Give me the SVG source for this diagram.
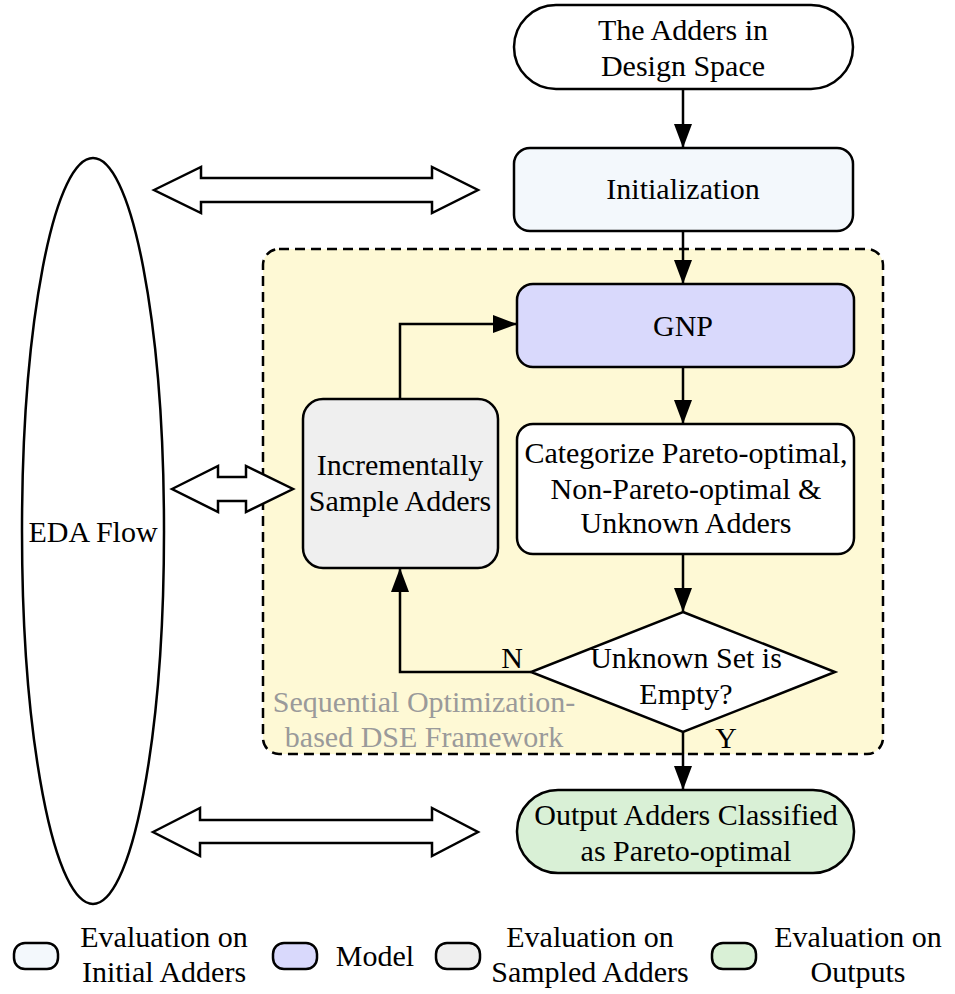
<svg xmlns="http://www.w3.org/2000/svg" width="955" height="994" viewBox="0 0 955 994">
<defs>
<marker id="ah" markerUnits="userSpaceOnUse" markerWidth="24" markerHeight="18" refX="24" refY="9" orient="auto"><path d="M0,0 L24,9 L0,18 z" fill="#000"/></marker>
<style>
text{font-family:"Liberation Serif","Times New Roman",serif;font-size:30px;fill:#000;text-anchor:middle}
.box{stroke:#000;stroke-width:2.5}
.conn{fill:none;stroke:#000;stroke-width:2.5}
.dbl{fill:#fff;stroke:#000;stroke-width:2.5;stroke-linejoin:miter}
.lg{stroke:#000;stroke-width:2.5}
</style>
</defs>
<rect width="955" height="994" fill="#fff"/>
<g id="framework">
<rect x="263" y="249" width="620" height="505" rx="16" fill="#fef9d5" stroke="#000" stroke-width="2.5" stroke-dasharray="10,6"/>
<text x="424" y="712" style="fill:#9a9a9a">Sequential Optimization-</text>
<text x="424" y="747" style="fill:#9a9a9a">based DSE Framework</text>
</g>
<g id="eda">
<ellipse cx="93" cy="531" rx="71" ry="373" fill="#fff" stroke="#000" stroke-width="2.5"/>
<text x="93" y="542">EDA Flow</text>
</g>
<g id="start">
<rect class="box" x="514" y="5" width="339" height="84" rx="42" fill="#fff"/>
<text x="683" y="40">The Adders in</text>
<text x="683" y="76">Design Space</text>
</g>
<g id="init">
<rect class="box" x="514" y="148" width="339" height="83" rx="16" fill="#f3f8fc"/>
<text x="683" y="199">Initialization</text>
</g>
<g id="gnp">
<rect class="box" x="517" y="284" width="337" height="83" rx="16" fill="#d9d9fc"/>
<text x="683" y="336">GNP</text>
</g>
<g id="categorize">
<rect class="box" x="517" y="424" width="337" height="130" rx="16" fill="#fff"/>
<text x="686" y="463">Categorize Pareto-optimal,</text>
<text x="686" y="499">Non-Pareto-optimal &amp;</text>
<text x="686" y="533">Unknown Adders</text>
</g>
<g id="sample">
<rect class="box" x="303" y="399" width="195" height="169" rx="20" fill="#efefef"/>
<text x="400" y="475">Incrementally</text>
<text x="400" y="511">Sample Adders</text>
</g>
<g id="decision">
<polygon class="box" points="683,612 835,672 683,732 531,672" fill="#fff"/>
<text x="686" y="668">Unknown Set is</text>
<text x="686" y="704">Empty?</text>
</g>
<g id="output">
<rect class="box" x="517" y="790" width="337" height="83" rx="41" fill="#d9f0d6"/>
<text x="686" y="825">Output Adders Classified</text>
<text x="686" y="861">as Pareto-optimal</text>
</g>
<g id="connectors">
<line class="conn" x1="683" y1="89" x2="683" y2="148" marker-end="url(#ah)"/>
<line class="conn" x1="683" y1="231" x2="683" y2="284" marker-end="url(#ah)"/>
<line class="conn" x1="683" y1="367" x2="683" y2="424" marker-end="url(#ah)"/>
<line class="conn" x1="683" y1="554" x2="683" y2="612" marker-end="url(#ah)"/>
<line class="conn" x1="683" y1="732" x2="683" y2="790" marker-end="url(#ah)"/>
<polyline class="conn" points="531,672 400,672 400,568" marker-end="url(#ah)"/>
<polyline class="conn" points="400,399 400,324 517,324" marker-end="url(#ah)"/>
<text x="512" y="668">N</text>
<text x="726" y="748">Y</text>
<polygon class="dbl" points="154,190 201,167 201,178 432,178 432,167 478,190 432,213 432,202 201,202 201,213"/>
<polygon class="dbl" points="172,489 218,466 218,477 246,477 246,466 293,489 246,512 246,501 218,501 218,512"/>
<polygon class="dbl" points="153,832 200,808 200,820 432,820 432,808 478,832 432,856 432,843 200,843 200,856"/>
</g>
<g id="legend">
<rect class="lg" x="14" y="943" width="44" height="26" rx="11" fill="#f3f8fc"/>
<text x="164" y="947">Evaluation on</text>
<text x="164" y="982">Initial Adders</text>
<rect class="lg" x="273" y="943" width="44" height="26" rx="11" fill="#d9d9fc"/>
<text x="375" y="966">Model</text>
<rect class="lg" x="436" y="943" width="44" height="26" rx="11" fill="#efefef"/>
<text x="590" y="947">Evaluation on</text>
<text x="590" y="982">Sampled Adders</text>
<rect class="lg" x="712" y="943" width="44" height="26" rx="11" fill="#d9f0d6"/>
<text x="858" y="947">Evaluation on</text>
<text x="858" y="982">Outputs</text>
</g>
</svg>
